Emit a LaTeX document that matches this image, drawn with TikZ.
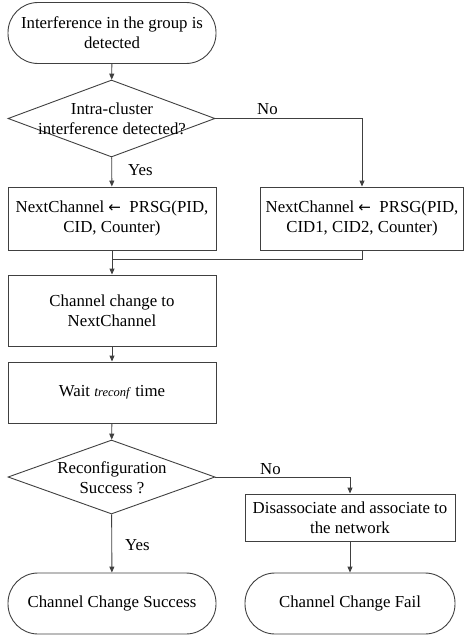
\documentclass[tikz,border=0pt]{standalone}
\usepackage{fontspec}
\setmainfont{Liberation Serif}
\newfontfamily\arrowfont{DejaVu Sans}
\usetikzlibrary{shapes.geometric,arrows.meta}
\begin{document}
\begin{tikzpicture}[x=1pt,y=-1pt,
  every node/.style={font=\fontsize{16.8}{20}\selectfont},
  base/.style={draw=black!75,line width=0.9pt,align=center,inner sep=2pt},
  term/.style={base,rectangle,rounded corners=30pt,minimum width=208pt,minimum height=61pt},
  proc/.style={base,rectangle,minimum width=208pt},
  dec/.style={draw=black!75,line width=0.9pt,diamond,minimum width=207pt,inner sep=0pt},
  txt/.style={inner sep=0pt,align=center},
  conn/.style={draw=black!75,line width=0.9pt,-{Triangle[length=6pt,width=5pt]}},
  plain/.style={draw=black!75,line width=0.9pt}]
\useasboundingbox (0,0) rectangle (464,637);
\node[term] (start) at (112,33) {Interference in the group is\\detected};
\node[dec,minimum height=77pt] (d1) at (111.5,118.5) {};
\node[txt] (d1t) at (112,119) {Intra-cluster\\interference detected?};
\node[proc,minimum height=63pt] (b1) at (112,218.5) {NextChannel {\arrowfont\fontsize{15}{20}\selectfont ←}\ \ PRSG(PID,\\CID, Counter)};
\node[proc,minimum width=203pt,minimum height=63pt] (b2) at (362,218.5) {NextChannel {\arrowfont\fontsize{15}{20}\selectfont ←}\ \ PRSG(PID,\\CID1, CID2, Counter)};
\coordinate (m) at (112,259);
\node[proc,minimum height=71pt] (b3) at (112,310.5) {Channel change to\\NextChannel};
\node[proc,minimum height=61pt] (b4) at (112,392.5) {Wait \textit{\fontsize{14}{20}\selectfont t\fontsize{12.5}{20}\selectfont reconf} time};
\node[dec,minimum height=74pt] (d2) at (111.5,477) {};
\node[txt] (d2t) at (112,478) {Reconfiguration\\Success ?};
\node[proc,minimum width=210pt,minimum height=47pt] (b5) at (350,517.5) {Disassociate and associate to\\the network};
\node[term] (t1) at (112,603.5) {Channel Change Success};
\node[term,minimum width=210pt] (t2) at (350,603.5) {Channel Change Fail};
% labels
\node[txt,anchor=west] (no1) at (257,109) {No};
\node[txt,anchor=west] (yes1) at (128,170) {Yes};
\node[txt,anchor=west] (no2) at (260,469) {No};
\node[txt,anchor=west] (yes2) at (125,545) {Yes};
% connectors
\draw[conn] (start) -- (d1);
\draw[conn] (d1) -- (b1);
\draw[conn] (d1.east) -| (b2.north);
\draw[plain] (b1.south) -- (m);
\draw[plain] (b2.south) |- (m);
\draw[conn] (m) -- (b3.north);
\draw[conn] (b3) -- (b4);
\draw[conn] (b4) -- (d2);
\draw[conn] (d2) -- (t1);
\draw[conn] (d2.east) -| (b5.north);
\draw[conn] (b5) -- (t2);
\end{tikzpicture}
\end{document}
